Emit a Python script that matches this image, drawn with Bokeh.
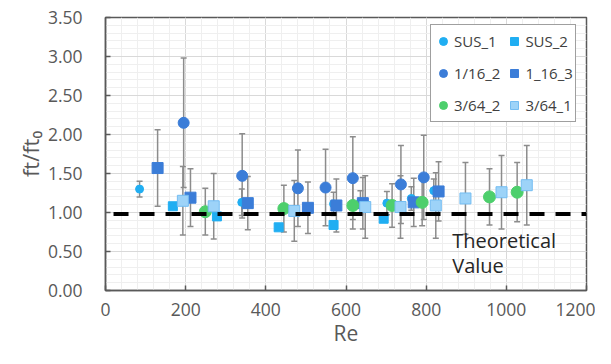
from bokeh.plotting import figure
from bokeh.models import (ColumnDataSource, Whisker, TeeHead, Legend, LegendItem, Label,
                          SingleIntervalTicker, NumeralTickFormatter, Range1d)
from bokeh.embed import file_html
from bokeh.resources import INLINE

# ---- data ----
sus1_re = [85, 340, 569, 636, 702, 763, 819]
sus1_y = [1.30, 1.13, 1.11, 1.13, 1.12, 1.18, 1.28]
sus1_err = [0.10, 0.17, 0.15, 0.15, 0.15, 0.15, 0.15]

sus2_re = [168, 278, 432, 569, 694]
sus2_y = [1.08, 0.95, 0.81, 0.84, 0.92]

a162_re = [195, 341, 480, 549, 617, 737, 794]
a162_y = [2.15, 1.47, 1.31, 1.32, 1.44, 1.36, 1.45]
a162_err = [0.83, 0.54, 0.49, 0.49, 0.53, 0.50, 0.54]

a163_re = [130, 212, 355, 505, 576, 642, 769, 831]
a163_y = [1.57, 1.19, 1.12, 1.06, 1.09, 1.12, 1.13, 1.27]
a163_err = [0.49, 0.37, 0.34, 0.33, 0.34, 0.33, 0.31, 0.38]

b642_re = [249, 445, 617, 715, 790, 958, 1027]
b642_y = [1.01, 1.05, 1.09, 1.09, 1.13, 1.20, 1.26]
b642_err = [0.30, 0.30, 0.30, 0.28, 0.30, 0.36, 0.38]

b641_re = [193, 270, 471, 648, 736, 824, 898, 988, 1051]
b641_y = [1.15, 1.08, 1.02, 1.07, 1.07, 1.09, 1.18, 1.26, 1.35]
b641_err = [0.44, 0.42, 0.39, 0.40, 0.40, 0.42, 0.46, 0.47, 0.51]

theory_x = [20, 1200]
theory_y = [0.98, 0.98]

FONT = "Open Sans"
AX = "#595959"

p = figure(frame_width=481, frame_height=273, x_range=Range1d(0, 1200), y_range=Range1d(0, 3.5),
           output_backend="svg", toolbar_location=None,
           min_border_left=105, min_border_right=9, min_border_top=17, min_border_bottom=0)
p.background_fill_color = "white"
p.border_fill_color = "white"
p.outline_line_color = AX
p.outline_line_width = 1.5

p.xaxis.ticker = SingleIntervalTicker(interval=200, num_minor_ticks=5)
p.yaxis.ticker = SingleIntervalTicker(interval=0.5, num_minor_ticks=5)
p.yaxis.formatter = NumeralTickFormatter(format="0.00")
p.xaxis.formatter = NumeralTickFormatter(format="0")

for ax in (p.xaxis[0], p.yaxis[0]):
    ax.axis_line_color = AX
    ax.axis_line_width = 1.5
    ax.major_tick_in = 5
    ax.major_tick_out = 0
    ax.major_tick_line_color = AX
    ax.major_tick_line_width = 1.5
    ax.minor_tick_line_color = None
    ax.major_label_text_font = FONT
    ax.major_label_text_font_size = "17.5px"
    ax.major_label_text_color = AX
    ax.axis_label_text_font = FONT
    ax.axis_label_text_font_style = "normal"
    ax.axis_label_text_color = AX

p.xaxis.axis_label = "Re"
p.yaxis.axis_label = "ft/ft\u2080"
p.xaxis.axis_label_text_font_size = "21px"
p.yaxis.axis_label_text_font_size = "22px"
p.xaxis.major_label_standoff = 8
p.xaxis.axis_label_standoff = 0
p.yaxis.major_label_standoff = 19
p.yaxis.axis_label_standoff = 0

p.xgrid.grid_line_color = "#d9d9d9"
p.ygrid.grid_line_color = "#d9d9d9"
p.xgrid.minor_grid_line_color = "#efefef"
p.ygrid.minor_grid_line_color = "#efefef"

ERR = "#8c8c8c"

def whisk(xs, ys, errs):
    src = ColumnDataSource(dict(x=xs, lo=[y - e for y, e in zip(ys, errs)],
                                hi=[y + e for y, e in zip(ys, errs)]))
    w = Whisker(source=src, base="x", upper="hi", lower="lo", dimension="height",
                line_color=ERR, line_width=1.5, level="underlay",
                upper_head=TeeHead(size=6, line_color=ERR, line_width=1.5),
                lower_head=TeeHead(size=6, line_color=ERR, line_width=1.5))
    p.add_layout(w)

whisk(sus1_re, sus1_y, sus1_err)
whisk(a162_re, a162_y, a162_err)
whisk(a163_re, a163_y, a163_err)
whisk(b642_re, b642_y, b642_err)
whisk(b641_re, b641_y, b641_err)

C_SUS = "#20aef2"
C_116 = "#3b7dd8"
C_GRN = "#4dcf6c"
C_LIT = "#9dd3f8"

r1 = p.scatter(sus1_re, sus1_y, marker="circle", size=8, fill_color=C_SUS, line_color=C_SUS)
r2 = p.scatter(sus2_re, sus2_y, marker="square", size=9, fill_color=C_SUS, line_color=C_SUS)
r3 = p.scatter(a162_re, a162_y, marker="circle", size=11, fill_color=C_116, line_color=C_116)
r4 = p.scatter(a163_re, a163_y, marker="square", size=11, fill_color=C_116, line_color=C_116)
r5 = p.scatter(b642_re, b642_y, marker="circle", size=12, fill_color=C_GRN, line_color=C_GRN)
r6 = p.scatter(b641_re, b641_y, marker="square", size=11, fill_color=C_LIT, line_color="#74bdf2")

p.line(theory_x, theory_y, line_color="black", line_width=4, line_dash="15 11")

p.add_layout(Label(x=865, y=0.82, text="Theoretical\nValue", text_font=FONT,
                   text_font_size="20px", text_color="#262626", text_baseline="top",
                   text_align="left", text_line_height=0.95))

legend = Legend(items=[
    LegendItem(label="SUS_1", renderers=[r1]),
    LegendItem(label="1/16_2", renderers=[r3]),
    LegendItem(label="3/64_2", renderers=[r5]),
    LegendItem(label="SUS_2", renderers=[r2]),
    LegendItem(label="1_16_3", renderers=[r4]),
    LegendItem(label="3/64_1", renderers=[r6]),
], orientation="vertical", nrows=3, location=(325, 168))
legend.padding = 2
legend.margin = 0
legend.spacing = 4
legend.glyph_width = 20
legend.glyph_height = 28
legend.label_height = 28
legend.label_standoff = 1
legend.label_text_font = FONT
legend.label_text_font_size = "15px"
legend.label_text_color = "#404040"
legend.border_line_color = "#404040"
legend.border_line_width = 1.5
legend.background_fill_alpha = 1
p.add_layout(legend)

open("out.html", "w").write(file_html(p, INLINE))
